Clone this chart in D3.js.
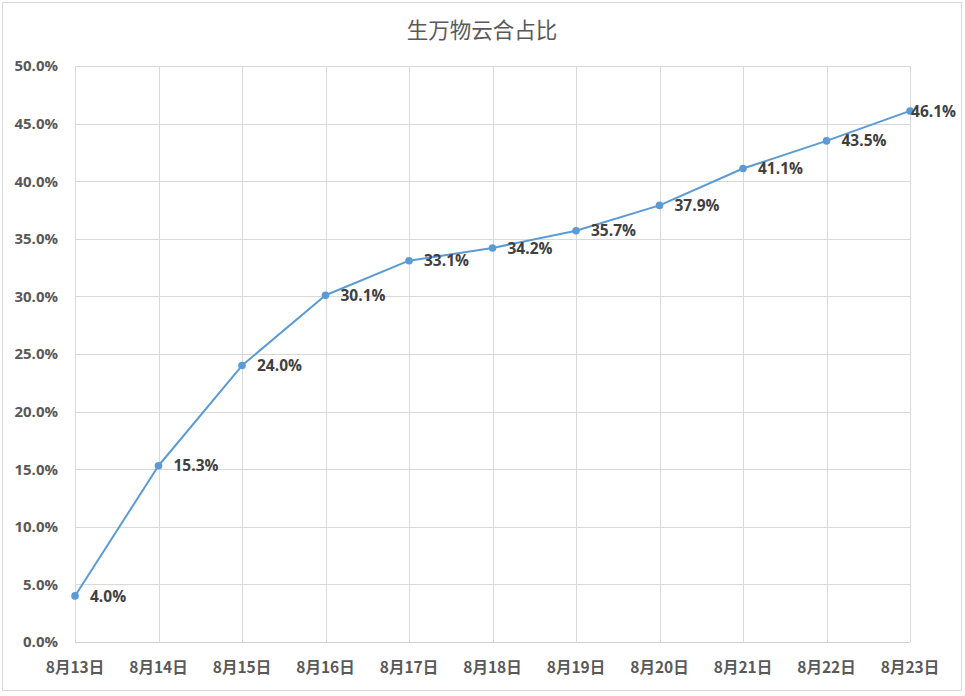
<!DOCTYPE html>
<html>
<head>
<meta charset="utf-8">
<script src="https://cdn.jsdelivr.net/npm/d3@7"></script>
<style>
  html, body { margin: 0; padding: 0; background: #fff; }
  svg { display: block; }
</style>
</head>
<body>
<svg id="chart" width="965" height="696"></svg>
<script>
const title = "生万物云合占比";
const categories = ["8月13日","8月14日","8月15日","8月16日","8月17日","8月18日","8月19日","8月20日","8月21日","8月22日","8月23日"];
const values = [4.0, 15.3, 24.0, 30.1, 33.1, 34.2, 35.7, 37.9, 41.1, 43.5, 46.1];
const yTicks = [0, 5, 10, 15, 20, 25, 30, 35, 40, 45, 50];

const W = 965, H = 696;
const margin = { left: 75, right: 55, top: 66, bottom: 54 };
const svg = d3.select("#chart");
const fontLatin = "'Open Sans', 'Noto Sans CJK SC', sans-serif";
const fontCJK = "'Noto Sans CJK SC', 'Open Sans', sans-serif";

// outer border
svg.append("rect").attr("x", 2.5).attr("y", 2.5).attr("width", 959).attr("height", 688)
  .attr("fill", "#fff").attr("stroke", "#d9d9d9").attr("stroke-width", 1);

const x = d3.scalePoint().domain(categories).range([margin.left, W - margin.right]);
const y = d3.scaleLinear().domain([0, 50]).range([H - margin.bottom, margin.top]);

// horizontal gridlines
svg.append("g").selectAll("line").data(yTicks).join("line")
  .attr("x1", margin.left).attr("x2", W - margin.right)
  .attr("y1", d => Math.round(y(d)) + 0.5).attr("y2", d => Math.round(y(d)) + 0.5)
  .attr("stroke", "#d9d9d9").attr("stroke-width", 1);

// vertical gridlines
svg.append("g").selectAll("line").data(categories).join("line")
  .attr("x1", d => Math.round(x(d)) + 0.5).attr("x2", d => Math.round(x(d)) + 0.5)
  .attr("y1", margin.top).attr("y2", H - margin.bottom)
  .attr("stroke", "#d9d9d9").attr("stroke-width", 1);

// bottom axis line
svg.append("line")
  .attr("x1", margin.left).attr("x2", W - margin.right)
  .attr("y1", Math.round(y(0)) + 0.5).attr("y2", Math.round(y(0)) + 0.5)
  .attr("stroke", "#d0d0d0").attr("stroke-width", 1);

// y axis labels
svg.append("g").selectAll("text").data(yTicks).join("text")
  .attr("x", 58).attr("y", d => y(d)).attr("dy", "0.36em")
  .attr("text-anchor", "end")
  .attr("font-family", fontLatin).attr("font-weight", "bold").attr("font-size", 15)
  .attr("fill", "#595959")
  .text(d => d3.format(".1f")(d) + "%");

// x axis labels
svg.append("g").selectAll("text").data(categories).join("text")
  .attr("x", d => x(d)).attr("y", 667).attr("dy", "0.36em")
  .attr("text-anchor", "middle")
  .attr("font-family", fontCJK).attr("font-weight", "bold").attr("font-size", 15.5)
  .attr("fill", "#595959")
  .text(d => d);

// title
svg.append("text")
  .attr("x", 482).attr("y", 30).attr("dy", "0.36em")
  .attr("text-anchor", "middle")
  .attr("font-family", fontCJK).attr("font-size", 21.5)
  .attr("fill", "#595959")
  .text(title);

const data = categories.map((c, i) => ({ c, v: values[i] }));

// line
svg.append("path").datum(data)
  .attr("fill", "none").attr("stroke", "#5b9bd5").attr("stroke-width", 2)
  .attr("stroke-linejoin", "round")
  .attr("d", d3.line().x(d => x(d.c)).y(d => y(d.v)));

// markers
svg.append("g").selectAll("circle").data(data).join("circle")
  .attr("cx", d => x(d.c)).attr("cy", d => y(d.v)).attr("r", 3.8)
  .attr("fill", "#5b9bd5");

// data labels
const labels = svg.append("g").selectAll("text").data(data).join("text")
  .attr("y", d => y(d.v)).attr("dy", "0.36em")
  .attr("font-family", fontLatin).attr("font-weight", "bold").attr("font-size", 15.5)
  .attr("fill", "#404040")
  .text(d => d3.format(".1f")(d.v) + "%");
labels.each(function(d) {
  const w = this.getComputedTextLength();
  const lx = Math.min(x(d.c) + 15, 956 - w);
  d3.select(this).attr("x", lx);
});
</script>
</body>
</html>
